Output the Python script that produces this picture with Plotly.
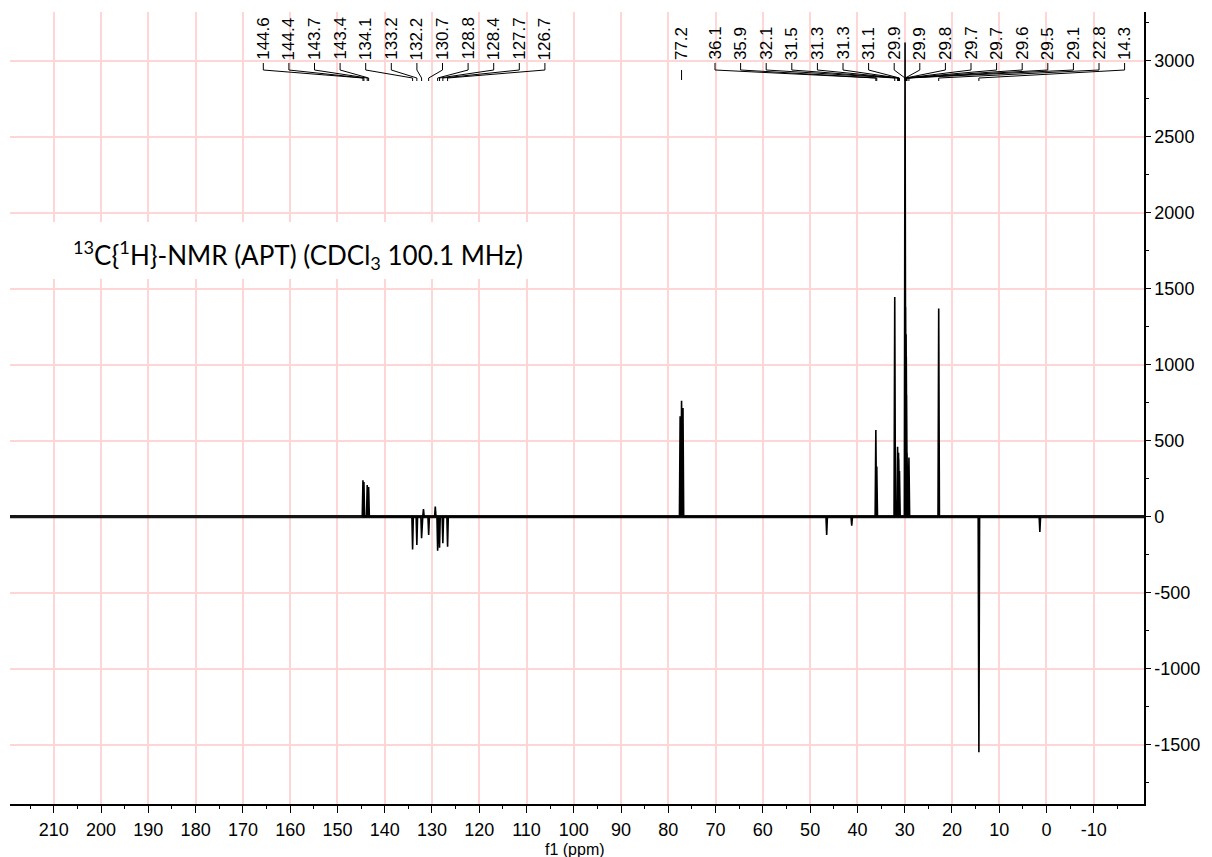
import plotly.graph_objects as go

# ---- spectrum peaks (ppm, intensity) ----
peak_ppm = [144.6, 144.4, 143.7, 143.4,
            134.1, 133.2, 132.2, 131.8, 130.7, 129.3, 128.8, 128.4, 127.7, 126.7,
            77.5, 77.2, 76.9,
            46.5, 41.2,
            36.1, 35.9,
            32.1,
            31.5, 31.3, 31.25, 31.1,
            29.92, 29.88, 29.8, 29.7, 29.66, 29.6, 29.5, 29.1,
            22.8,
            14.3,
            1.4]
peak_int = [240, 228, 208, 196,
            -215, -186, -142, 50, -120, 66, -224, -205, -175, -197,
            660, 762, 715,
            -120, -60,
            570, 330,
            1445,
            460, 420, 380, 300,
            3120, 1530, 1380, 1200, 1050, 800, 420, 390,
            1370,
            -1550,
            -100]

# ---- peak labels (three groups) ----
labels_aromatic = [144.6, 144.4, 143.7, 143.4, 134.1, 133.2, 132.2, 130.7, 128.8, 128.4, 127.7, 126.7]
labels_solvent = [77.2]
labels_aliphatic = [36.1, 35.9, 32.1, 31.5, 31.3, 31.3, 31.1, 29.9, 29.9, 29.8, 29.7, 29.7,
                    29.6, 29.5, 29.1, 22.8, 14.3]
label_peak_ppm_aliphatic = [36.1, 35.9, 32.1, 31.5, 31.3, 31.25, 31.1, 29.92, 29.88, 29.8, 29.7, 29.66,
                            29.6, 29.5, 29.1, 22.8, 14.3]

# ---- axes ----
x_ticks = list(range(-10, 211, 10))
x_minor = list(range(-15, 216, 5))
y_ticks = list(range(-1500, 3001, 500))
X_RANGE = [219.27, -20.63]
Y_RANGE = [-1890, 3320]

title_text = "<sup>13</sup>C{<sup>1</sup>H}-NMR (APT) (CDCl<sub>3</sub> 100.1 MHz)"

# layout geometry (pixels)
W, H = 1212, 857
L, R, T, B = 10, 1144, 12, 804


def px_to_ppm(px):
    return X_RANGE[0] + (px - L) / (R - L) * (X_RANGE[1] - X_RANGE[0])


def py_to_val(py):
    return Y_RANGE[1] - (py - T) / (B - T) * (Y_RANGE[1] - Y_RANGE[0])


def px_to_paper(px):
    return (px - L) / (R - L)


def py_to_paper(py):
    return (B - py) / (B - T)


# stick spectrum built from the peak list
half_w = 0.15
order = sorted(range(len(peak_ppm)), key=lambda i: -peak_ppm[i])
spec_x, spec_y = [], []
for i in order:
    p, h = peak_ppm[i], peak_int[i]
    spec_x += [p + half_w, p, p - half_w]
    spec_y += [0, h, 0]

fig = go.Figure()

# baseline band
fig.add_trace(go.Scatter(x=X_RANGE, y=[0, 0], mode="lines",
                         line=dict(color="#151515", width=3.2), hoverinfo="skip"))
fig.add_trace(go.Scatter(x=spec_x, y=spec_y, mode="lines",
                         line=dict(color="black", width=1.6), hoverinfo="skip"))

# label leader lines
step = 25.6  # px between neighbouring labels
lead_x, lead_y = [], []
y_top, y_knee, y_foot, y_end = py_to_val(63), py_to_val(70), py_to_val(78), py_to_val(81)
annotations = []
label_font = dict(family="Liberation Sans, Arial", size=17, color="black")


def add_group(values, peaks, start_px):
    for k, (v, p) in enumerate(zip(values, peaks)):
        lx = px_to_ppm(start_px + k * step)
        lead_x.extend([lx, lx, p, p, None])
        lead_y.extend([y_top, y_knee, y_foot, y_end, None])
        annotations.append(dict(x=lx, xref="x", y=py_to_paper(61), yref="paper",
                                text=f"{v:.1f}", textangle=-90, showarrow=False,
                                xanchor="center", yanchor="bottom", borderpad=0,
                                font=label_font))


add_group(labels_aromatic, labels_aromatic, 263.3)
add_group(labels_aliphatic, label_peak_ppm_aliphatic, 715.0)
for v in labels_solvent:
    lead_x.extend([v, v, None])
    lead_y.extend([py_to_val(70), py_to_val(80), None])
    annotations.append(dict(x=v, xref="x", y=py_to_paper(61), yref="paper",
                            text=f"{v:.1f}", textangle=-90, showarrow=False,
                            xanchor="center", yanchor="bottom", borderpad=0,
                            font=label_font))

fig.add_trace(go.Scatter(x=lead_x, y=lead_y, mode="lines",
                         line=dict(color="black", width=1), hoverinfo="skip"))

annotations.append(dict(x=px_to_paper(71), xref="paper", y=py_to_paper(255), yref="paper",
                        text=title_text, showarrow=False, xanchor="left", yanchor="middle",
                        font=dict(family="Lato, Noto Sans", size=26, color="black")))
annotations.append(dict(x=px_to_paper(575), xref="paper", y=py_to_paper(849), yref="paper",
                        text="f1 (ppm)", showarrow=False, xanchor="center", yanchor="middle",
                        font=dict(family="Liberation Sans, Arial", size=16, color="black")))

grid_col = "rgb(255,214,214)"
fig.update_layout(
    width=W, height=H, autosize=False,
    margin=dict(l=L, r=W - R, t=T, b=H - B, pad=0),
    paper_bgcolor="white", plot_bgcolor="white",
    showlegend=False,
    annotations=annotations,
    shapes=[dict(type="rect", xref="x", yref="y",
                 x0=X_RANGE[0], x1=px_to_ppm(540), y0=py_to_val(279), y1=py_to_val(222),
                 fillcolor="white", line=dict(width=0), layer="between")],
    xaxis=dict(range=X_RANGE, tickvals=x_ticks, ticktext=[str(t) for t in x_ticks],
               showgrid=True, gridcolor=grid_col, gridwidth=1.5, zeroline=False,
               showline=True, linecolor="black", linewidth=1.5,
               ticks="outside", ticklen=7, tickwidth=1.3, tickcolor="black",
               minor=dict(tickvals=x_minor, ticks="outside", ticklen=3, tickcolor="black",
                          tickwidth=1, showgrid=False),
               tickfont=dict(family="Liberation Sans, Arial", size=18, color="black"),
               ticklabelstandoff=2, automargin=False),
    yaxis=dict(range=Y_RANGE, side="right", tickvals=y_ticks,
               ticktext=[str(t) for t in y_ticks],
               showgrid=True, gridcolor=grid_col, gridwidth=1.5, zeroline=False,
               showline=True, linecolor="black", linewidth=1.5,
               ticks="outside", ticklen=5, tickwidth=1.3, tickcolor="black",
               minor=dict(dtick=250, tick0=0, ticks="outside", ticklen=3, tickcolor="black",
                          tickwidth=1, showgrid=False),
               tickfont=dict(family="Liberation Sans, Arial", size=18, color="black"),
               automargin=False),
)

fig.write_html("out.html")
